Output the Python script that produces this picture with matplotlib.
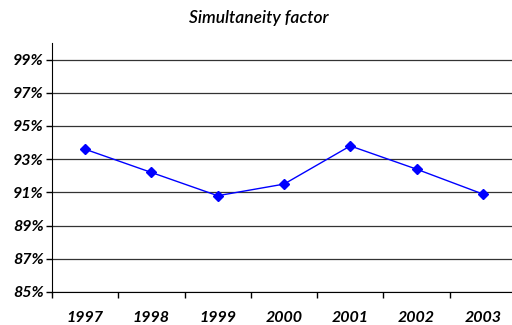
import matplotlib
matplotlib.use("Agg")
import matplotlib.pyplot as plt
from matplotlib.ticker import FixedLocator, FuncFormatter

years = ["1997", "1998", "1999", "2000", "2001", "2002", "2003"]
simultaneity = [93.6, 92.2, 90.8, 91.5, 93.8, 92.4, 90.9]
y_ticks = [85, 87, 89, 91, 93, 95, 97, 99]

plt.rcParams["font.family"] = ["Lato", "DejaVu Sans"]

fig = plt.figure(figsize=(5.12, 3.25), dpi=100)
ax = fig.add_axes([52 / 512, 1 - 292 / 325, 464 / 512, (292 - 43) / 325])

x = list(range(len(years)))
ax.plot(x, simultaneity, color="#0000ff", lw=1.0, marker="D", ms=5,
        markerfacecolor="#0000ff", markeredgecolor="#0000ff", clip_on=False)

ax.set_ylim(85, 100)
ax.set_xlim(-0.5, len(years) - 0.5)
ax.yaxis.set_major_locator(FixedLocator(y_ticks))
ax.yaxis.set_major_formatter(FuncFormatter(lambda v, p: f"{v:.0f}%"))
ax.yaxis.grid(True, color="#333333", lw=0.9)
ax.set_axisbelow(True)

ax.set_xticks(x)
ax.set_xticklabels(years)
ax.set_xticks([i - 0.5 for i in range(len(years) + 1)], minor=True)
ax.tick_params(axis="x", which="major", length=0, pad=14)
ax.tick_params(axis="x", which="minor", length=4, width=1, color="black", direction="out")
ax.tick_params(axis="y", length=4, width=1, direction="out", pad=2)

for lab in ax.get_xticklabels() + ax.get_yticklabels():
    lab.set_fontstyle("italic")
    lab.set_fontweight("bold")
    lab.set_fontsize(11.5)

for side in ["top", "right"]:
    ax.spines[side].set_visible(False)
ax.spines["left"].set_color("black")
ax.spines["bottom"].set_color("black")

fig.text(259 / 512, 1 - 18 / 325, "Simultaneity factor", ha="center", va="center",
         fontsize=12.5, fontstyle="italic", fontweight="semibold")

fig.savefig("out.png", dpi=100)
